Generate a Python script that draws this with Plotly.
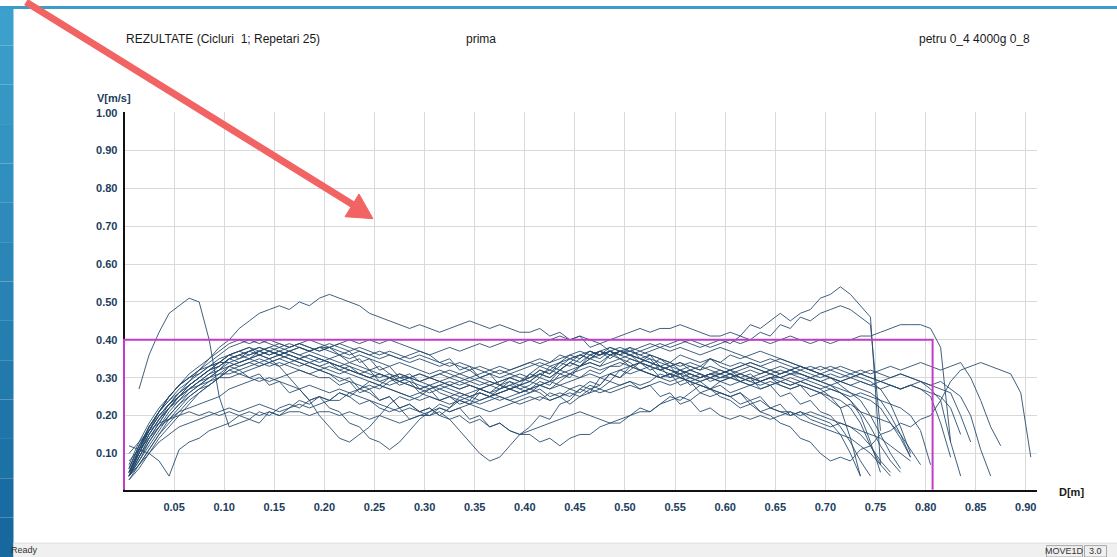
import plotly.graph_objects as go

W, H = 1117, 557


def px(x):
    return x / W


def py(y):
    return 1 - y / H


# ---------------- data ----------------
# sample positions along D [m]
D_GRID = [0.005, 0.015, 0.025, 0.035, 0.045, 0.055, 0.065, 0.075, 0.085, 0.095,
          0.105, 0.115, 0.125, 0.135, 0.145, 0.155, 0.165, 0.175, 0.185, 0.195,
          0.205, 0.215, 0.225, 0.235, 0.245, 0.255, 0.265, 0.275, 0.285, 0.295,
          0.305, 0.315, 0.325, 0.335, 0.345, 0.355, 0.365, 0.375, 0.385, 0.395,
          0.405, 0.415, 0.425, 0.435, 0.445, 0.455, 0.465, 0.475, 0.485, 0.495,
          0.505, 0.515, 0.525, 0.535, 0.545, 0.555, 0.565, 0.575, 0.585, 0.595,
          0.605, 0.615, 0.625, 0.635, 0.645, 0.655, 0.665, 0.675, 0.685, 0.695,
          0.705, 0.715, 0.725, 0.735, 0.745, 0.755, 0.765, 0.775, 0.785, 0.795,
          0.805, 0.815, 0.825, 0.835, 0.845, 0.855, 0.865, 0.875, 0.885, 0.895,
          0.905]

# velocity of each repetition, in cm/s (0.01 m/s), starting at D_GRID[REP_START[i]]
REP01 = [27, 36, 42, 47, 49, 51, 50, 40, 25, 17, 18, 19, 18, 21, 20, 22, 24, 23, 25, 24,
         24, 26, 27, 28, 27, 29, 30, 30, 31, 30, 31, 32, 31, 32, 30, 29, 28, 27, 26, 27,
         26, 24, 25, 23, 25, 27, 28, 31, 30, 33, 34, 32, 33, 30, 31, 28, 29, 27, 28, 26,
         27, 28, 29, 30, 30, 31, 31, 30, 29, 28, 26, 24, 20, 13, 5]
REP02 = [5, 10, 15, 19, 23, 26, 29, 32, 35, 38, 40, 43, 45, 47, 48, 49, 48, 50, 49, 51,
         52, 51, 50, 49, 47, 46, 45, 44, 43, 44, 43, 42, 43, 44, 45, 44, 43, 44, 43, 42,
         42, 43, 41, 42, 40, 41, 38, 39, 37, 36, 38, 35, 36, 33, 34, 32, 30, 31, 29, 30,
         30, 29, 28, 29, 28, 29, 30, 29, 28, 27, 25, 22, 14, 4]
REP03 = [4, 11, 17, 21, 25, 28, 30, 32, 34, 36, 38, 39, 40, 39, 40, 39, 38, 39, 38, 37,
         38, 37, 36, 37, 36, 35, 36, 35, 36, 37, 36, 37, 38, 37, 38, 39, 38, 39, 40, 39,
         40, 39, 40, 41, 40, 41, 40, 39, 40, 41, 42, 43, 42, 43, 43, 44, 43, 42, 41, 41,
         42, 41, 44, 43, 45, 47, 45, 47, 48, 51, 52, 54, 52, 49, 46, 7]
REP04 = [6, 12, 17, 21, 24, 27, 29, 31, 33, 34, 36, 37, 38, 37, 36, 37, 36, 35, 36, 35,
         34, 33, 34, 33, 32, 31, 30, 31, 30, 29, 30, 29, 30, 31, 30, 31, 32, 33, 32, 33,
         34, 35, 34, 36, 35, 36, 37, 36, 37, 38, 37, 38, 39, 38, 39, 40, 39, 38, 39, 40,
         39, 41, 40, 42, 41, 44, 43, 46, 45, 47, 48, 49, 48, 46, 44, 16]
REP05 = [4, 8, 12, 16, 20, 23, 26, 28, 30, 32, 35, 36, 35, 37, 38, 37, 38, 39, 38, 37,
         38, 39, 38, 37, 36, 37, 36, 35, 34, 35, 34, 33, 34, 33, 32, 33, 32, 31, 32, 33,
         34, 33, 34, 35, 36, 37, 36, 37, 38, 37, 38, 37, 38, 39, 38, 39, 40, 39, 38, 39,
         40, 39, 40, 40, 39, 40, 41, 40, 39, 40, 39, 40, 40, 41, 41, 42, 43, 44, 44, 44,
         43, 38, 13]
REP06 = [8, 11, 14, 17, 19, 21, 22, 23, 24, 25, 27, 28, 29, 30, 29, 30, 31, 32, 31, 32,
         33, 32, 31, 30, 29, 28, 27, 26, 25, 26, 25, 24, 25, 24, 23, 24, 25, 26, 27, 28,
         27, 28, 29, 30, 31, 32, 33, 32, 33, 34, 33, 32, 31, 30, 29, 30, 29, 28, 27, 26,
         25, 23, 24, 21, 20, 18, 17, 14, 13, 10, 8, 9, 8, 11, 12, 15, 16, 18, 17, 19,
         20, 24, 29, 32, 33, 34, 33, 32, 31, 26, 9]
REP07 = [5, 10, 15, 19, 22, 25, 27, 29, 30, 32, 33, 34, 35, 34, 35, 36, 35, 34, 33, 32,
         31, 30, 29, 28, 27, 28, 27, 26, 25, 24, 25, 24, 23, 24, 25, 26, 25, 26, 27, 26,
         27, 28, 27, 28, 29, 30, 31, 30, 31, 32, 31, 32, 31, 30, 31, 30, 29, 30, 31, 30,
         31, 30, 29, 30, 31, 30, 31, 32, 31, 30, 31, 30, 31, 32, 31, 32, 33, 32, 33, 34,
         33, 32, 33, 34, 30, 24, 17, 12]
REP08 = [3, 7, 11, 15, 19, 22, 25, 27, 29, 31, 33, 32, 33, 34, 33, 34, 33, 32, 31, 30,
         30, 28, 29, 26, 27, 24, 25, 22, 23, 21, 22, 20, 22, 24, 23, 26, 25, 27, 29, 28,
         31, 30, 33, 32, 34, 36, 35, 37, 36, 37, 36, 35, 34, 33, 32, 31, 30, 29, 30, 29,
         28, 29, 28, 27, 28, 29, 28, 29, 30, 29, 30, 29, 30, 31, 30, 29, 30, 31, 30, 29,
         28, 29, 27, 25, 20, 11, 4]
REP09 = [4, 9, 14, 18, 22, 25, 28, 30, 32, 34, 36, 35, 37, 38, 37, 36, 37, 36, 35, 34,
         35, 34, 33, 32, 31, 30, 31, 30, 29, 28, 27, 28, 27, 26, 25, 26, 25, 24, 25, 26,
         27, 29, 28, 31, 30, 33, 34, 33, 36, 37, 36, 35, 34, 33, 32, 31, 32, 31, 30, 31,
         30, 29, 30, 31, 32, 31, 32, 33, 32, 33, 32, 33, 32, 31, 32, 31, 30, 31, 30, 29,
         27, 24, 13, 4]
REP10 = [6, 12, 17, 21, 24, 26, 28, 30, 32, 34, 36, 37, 36, 37, 38, 39, 38, 39, 40, 39,
         38, 36, 37, 34, 35, 32, 33, 30, 31, 29, 30, 29, 28, 27, 28, 27, 26, 27, 28, 29,
         30, 32, 31, 33, 35, 34, 36, 37, 35, 37, 36, 37, 36, 35, 34, 33, 34, 33, 32, 31,
         32, 31, 30, 29, 30, 29, 28, 29, 28, 27, 28, 29, 28, 29, 28, 27, 28, 27, 28, 27,
         26, 25, 22, 15]
REP11 = [5, 11, 16, 20, 23, 25, 27, 29, 31, 32, 34, 33, 34, 35, 34, 35, 36, 35, 34, 35,
         34, 32, 33, 31, 32, 29, 30, 28, 29, 26, 27, 24, 25, 23, 24, 23, 24, 25, 24, 23,
         24, 25, 24, 25, 26, 25, 26, 27, 26, 27, 28, 27, 28, 29, 28, 29, 30, 29, 30, 31,
         32, 33, 34, 33, 32, 31, 32, 31, 30, 31, 30, 29, 30, 29, 28, 29, 28, 27, 28, 29,
         28, 27, 26, 20, 13]
REP12 = [4, 7, 10, 14, 17, 20, 23, 26, 28, 30, 33, 34, 35, 36, 35, 36, 37, 38, 37, 38,
         38, 39, 40, 39, 40, 39, 40, 39, 38, 37, 36, 34, 35, 32, 33, 30, 31, 28, 29, 27,
         28, 30, 29, 32, 31, 33, 35, 34, 36, 35, 33, 34, 33, 32, 33, 32, 31, 30, 31, 30,
         31, 30, 29, 28, 29, 28, 27, 28, 27, 26, 27, 26, 25, 26, 25, 24, 23, 22, 20, 16,
         7]
REP13 = [4, 9, 13, 17, 20, 23, 25, 27, 28, 30, 32, 31, 32, 33, 34, 33, 34, 35, 34, 33,
         34, 33, 32, 31, 30, 31, 30, 29, 30, 29, 28, 29, 28, 27, 28, 27, 28, 29, 30, 29,
         30, 32, 31, 34, 33, 35, 37, 36, 37, 35, 36, 35, 34, 33, 32, 31, 32, 31, 30, 29,
         30, 31, 32, 31, 32, 33, 32, 33, 32, 31, 30, 29, 28, 27, 26, 24, 20, 15, 9]
REP14 = [12, 11, 10, 8, 4, 11, 13, 14, 16, 17, 18, 20, 19, 21, 20, 22, 23, 22, 24, 25,
         24, 26, 25, 23, 24, 22, 21, 22, 19, 20, 20, 22, 21, 22, 19, 20, 17, 18, 16, 15,
         16, 17, 18, 19, 20, 21, 20, 19, 18, 19, 20, 22, 21, 23, 25, 24, 26, 28, 27, 29,
         30, 31, 30, 29, 30, 31, 32, 31, 30, 29, 28, 27, 26, 25, 24, 22, 18, 14, 9]
REP15 = [5, 11, 17, 21, 25, 28, 30, 32, 33, 35, 36, 37, 38, 36, 35, 33, 30, 27, 24, 20,
         17, 14, 13, 15, 17, 20, 23, 25, 24, 25, 27, 28, 29, 28, 29, 30, 31, 30, 31, 32,
         33, 34, 33, 34, 35, 36, 35, 36, 37, 36, 35, 34, 33, 32, 31, 32, 31, 30, 31, 32,
         31, 32, 33, 32, 31, 30, 29, 28, 27, 26, 25, 24, 22, 18, 12, 7]
REP16 = [6, 12, 16, 20, 23, 25, 27, 28, 30, 31, 31, 32, 30, 31, 28, 29, 26, 27, 24, 25,
         22, 21, 18, 17, 14, 13, 11, 13, 16, 19, 21, 23, 22, 25, 24, 27, 26, 28, 30, 29,
         31, 33, 32, 34, 36, 35, 37, 36, 38, 37, 37, 36, 35, 34, 33, 34, 33, 32, 33, 32,
         31, 29, 30, 27, 28, 25, 26, 23, 24, 21, 20, 17, 13, 8, 4]
REP17 = [4, 8, 13, 17, 21, 24, 27, 29, 31, 33, 35, 36, 37, 38, 37, 36, 35, 34, 33, 32,
         31, 29, 30, 27, 26, 24, 25, 22, 23, 21, 22, 20, 19, 16, 13, 10, 8, 9, 12, 15,
         17, 20, 19, 23, 24, 27, 26, 30, 29, 32, 33, 32, 31, 30, 31, 30, 29, 28, 27, 26,
         25, 26, 24, 25, 22, 23, 20, 21, 19, 18, 17, 18, 17, 15, 12, 8, 5]
REP18 = [10, 13, 16, 18, 19, 20, 21, 20, 21, 20, 21, 20, 21, 20, 21, 20, 21, 21, 20, 21,
         21, 20, 21, 20, 19, 20, 19, 18, 19, 20, 21, 22, 21, 22, 23, 22, 21, 22, 23, 24,
         25, 24, 26, 25, 27, 26, 28, 27, 29, 28, 29, 27, 28, 25, 26, 23, 24, 21, 22, 20,
         19, 20, 19, 20, 19, 20, 21, 20, 21, 20, 19, 18, 17, 16, 15, 14, 12, 10, 8]
REP19 = [5, 10, 15, 19, 22, 24, 26, 28, 29, 30, 30, 31, 30, 29, 30, 29, 28, 27, 28, 27,
         26, 27, 26, 25, 24, 23, 22, 21, 22, 21, 20, 21, 19, 20, 18, 19, 17, 18, 16, 15,
         15, 13, 14, 12, 14, 15, 15, 17, 18, 18, 20, 21, 21, 23, 24, 25, 24, 26, 25, 26,
         25, 26, 23, 24, 22, 21, 21, 19, 18, 17, 16, 15, 14, 12, 10, 7, 4]
REP20 = [3, 6, 10, 13, 15, 17, 18, 19, 20, 21, 22, 21, 22, 23, 22, 21, 22, 23, 22, 23,
         24, 26, 25, 27, 29, 28, 30, 31, 30, 31, 30, 31, 30, 29, 30, 29, 28, 27, 28, 27,
         26, 27, 25, 26, 25, 27, 29, 28, 31, 30, 32, 34, 33, 35, 34, 36, 35, 34, 35, 33,
         32, 30, 31, 29, 30, 28, 27, 28, 25, 26, 24, 22, 23, 21, 20, 19, 18, 15, 11, 7]
REP21 = [4, 9, 14, 18, 22, 25, 28, 30, 32, 33, 35, 36, 37, 36, 37, 36, 37, 38, 37, 36,
         35, 36, 34, 35, 32, 33, 31, 29, 30, 27, 28, 26, 25, 26, 25, 24, 25, 26, 27, 28,
         29, 31, 30, 32, 34, 33, 35, 37, 36, 37, 36, 34, 35, 32, 33, 30, 31, 30, 31, 31,
         32, 33, 34, 33, 34, 35, 34, 33, 32, 31, 30, 28, 26, 24, 20, 15, 10, 6]
REP22 = [5, 11, 16, 21, 25, 28, 31, 33, 35, 37, 39, 40, 39, 40, 39, 38, 39, 38, 37, 38,
         37, 36, 35, 36, 35, 34, 33, 34, 33, 32, 31, 32, 31, 30, 29, 28, 29, 28, 27, 28,
         29, 31, 30, 32, 34, 33, 36, 35, 37, 36, 37, 36, 37, 38, 37, 38, 37, 36, 37, 38,
         37, 36, 35, 34, 35, 34, 33, 32, 33, 32, 33, 32, 31, 30, 29, 27, 23, 17, 10]
REP23 = [4, 7, 11, 15, 18, 21, 24, 26, 28, 30, 32, 33, 34, 33, 34, 35, 34, 33, 34, 33,
         32, 31, 32, 31, 30, 29, 28, 29, 28, 27, 28, 27, 28, 29, 28, 27, 28, 29, 30, 31,
         30, 31, 32, 31, 32, 33, 34, 33, 34, 35, 34, 32, 33, 30, 31, 28, 29, 26, 27, 25,
         24, 22, 23, 21, 22, 21, 20, 21, 20, 19, 18, 15, 10, 4]
REP24 = [7, 13, 18, 22, 25, 28, 30, 31, 33, 34, 34, 35, 36, 37, 36, 37, 36, 35, 36, 35,
         34, 33, 32, 31, 30, 31, 30, 29, 28, 27, 26, 27, 26, 25, 26, 27, 26, 25, 24, 25,
         26, 28, 27, 29, 31, 30, 32, 31, 33, 33, 35, 34, 36, 35, 33, 34, 32, 33, 35, 34,
         36, 35, 36, 37, 36, 35, 34, 33, 32, 31, 32, 31, 30, 31, 30, 29, 28, 27, 28, 27,
         25, 18, 9]
REP25 = [4, 10, 16, 20, 23, 26, 28, 30, 32, 33, 35, 34, 35, 36, 37, 38, 37, 36, 37, 38,
         39, 38, 37, 38, 37, 36, 37, 36, 35, 36, 35, 34, 33, 34, 33, 32, 31, 32, 31, 30,
         29, 28, 29, 28, 27, 28, 27, 26, 27, 28, 29, 28, 29, 31, 30, 32, 33, 32, 35, 34,
         33, 34, 33, 32, 31, 32, 31, 30, 29, 28, 27, 26, 24, 21, 17, 12, 8, 5]

REPS = [REP01, REP02, REP03, REP04, REP05, REP06, REP07, REP08, REP09, REP10,
        REP11, REP12, REP13, REP14, REP15, REP16, REP17, REP18, REP19, REP20,
        REP21, REP22, REP23, REP24, REP25]
REP_START = [1, 0, 0, 0, 0, 0, 0, 0, 0, 0, 0, 0, 0, 0, 0, 0, 0, 0, 0, 0, 0, 0, 0, 0, 0]

# target window (magenta)
TARGET_D = [0.0, 0.0, 0.807, 0.807]
TARGET_V = [0.0, 0.40, 0.40, 0.0]

X_TICKS = [0.05, 0.10, 0.15, 0.20, 0.25, 0.30, 0.35, 0.40, 0.45, 0.50,
           0.55, 0.60, 0.65, 0.70, 0.75, 0.80, 0.85, 0.90]
X_LABELS = ["0.05", "0.10", "0.15", "0.20", "0.25", "0.30", "0.35", "0.40", "0.45", "0.50",
            "0.55", "0.60", "0.65", "0.70", "0.75", "0.80", "0.85", "0.90"]
Y_TICKS = [0.10, 0.20, 0.30, 0.40, 0.50, 0.60, 0.70, 0.80, 0.90, 1.00]
Y_LABELS = ["0.10", "0.20", "0.30", "0.40", "0.50", "0.60", "0.70", "0.80", "0.90", "1.00"]

TITLE_LEFT = "REZULTATE (Cicluri\u00a0 1; Repetari 25)"
TITLE_MID = "prima"
TITLE_RIGHT = "petru 0_4 4000g 0_8"

# ---------------- figure ----------------
fig = go.Figure()

for rep, s in zip(REPS, REP_START):
    xs = D_GRID[s:s + len(rep)]
    ys = [v / 100 for v in rep]
    fig.add_trace(go.Scatter(x=xs, y=ys, mode="lines",
                             line=dict(color="rgba(38,74,108,0.88)", width=1),
                             hoverinfo="skip", showlegend=False))

fig.add_trace(go.Scatter(x=TARGET_D, y=TARGET_V, mode="lines",
                         line=dict(color="#C23CC6", width=2),
                         hoverinfo="skip", showlegend=False))

tick_font = dict(family="Liberation Sans, Arial, sans-serif", size=11, color="#203d5e")

fig.update_layout(
    width=W, height=H,
    margin=dict(l=0, r=0, t=0, b=0),
    paper_bgcolor="white", plot_bgcolor="white",
    showlegend=False,
    font=dict(family="Liberation Sans, Arial, sans-serif"),
    xaxis=dict(
        range=[-0.0015, 0.911],
        domain=[px(122.5), px(1036.8)],
        tickmode="array", tickvals=X_TICKS, ticktext=X_LABELS,
        tickfont=dict(tick_font, weight="bold"),
        ticks="", ticklabelstandoff=6,
        showgrid=True, gridcolor="#d9d9d9", gridwidth=1,
        zeroline=True, zerolinecolor="#111111", zerolinewidth=2,
        showline=True, linecolor="#111111", linewidth=2,
        fixedrange=True,
    ),
    yaxis=dict(
        range=[0.004, 1.001],
        domain=[py(489), py(107.45)],
        tickmode="array", tickvals=Y_TICKS, ticktext=Y_LABELS,
        tickfont=dict(tick_font, weight="bold"),
        ticks="", ticklabelstandoff=4,
        showgrid=True, gridcolor="#d9d9d9", gridwidth=1,
        zeroline=False, showline=False,
        fixedrange=True,
    ),
)

shapes = []
# blue window frame on the left (vertical gradient) and top strip
top_c = (60, 160, 204)
bot_c = (22, 104, 158)
n = 14
for i in range(n):
    t = i / (n - 1)
    c = tuple(int(round(top_c[j] + (bot_c[j] - top_c[j]) * t)) for j in range(3))
    shapes.append(dict(type="rect", xref="paper", yref="paper",
                       x0=px(0), x1=px(13.5), y0=py(H * (i + 1) / n), y1=py(H * i / n),
                       fillcolor="rgb(%d,%d,%d)" % c, line=dict(width=0), layer="above"))
shapes.append(dict(type="rect", xref="paper", yref="paper",
                   x0=0, x1=1, y0=py(3), y1=1,
                   fillcolor="rgb(58,158,200)", line=dict(width=0), layer="above"))
# status bar
shapes.append(dict(type="rect", xref="paper", yref="paper",
                   x0=px(13.5), x1=1, y0=0, y1=py(543),
                   fillcolor="#f0f0f0", line=dict(width=0), layer="above"))
shapes.append(dict(type="line", xref="paper", yref="paper",
                   x0=px(13.5), x1=1, y0=py(543), y1=py(543),
                   line=dict(color="#dcdcdc", width=1), layer="above"))
shapes.append(dict(type="rect", xref="paper", yref="paper",
                   x0=px(1046.5), x1=px(1082.5), y0=0, y1=py(545.5),
                   fillcolor="rgba(0,0,0,0)", line=dict(color="#a8a8a8", width=1), layer="above"))
shapes.append(dict(type="rect", xref="paper", yref="paper",
                   x0=px(1084.5), x1=px(1106.5), y0=0, y1=py(545.5),
                   fillcolor="rgba(0,0,0,0)", line=dict(color="#a8a8a8", width=1), layer="above"))
# red pointer arrow
arrow_c = "#F26464"
shapes.append(dict(type="line", xref="paper", yref="paper",
                   x0=px(26), y0=py(-4), x1=px(353), y1=py(201),
                   line=dict(color=arrow_c, width=7), layer="above"))
shapes.append(dict(type="path", xref="paper", yref="paper",
                   path="M %f %f L %f %f L %f %f Z" % (px(373), py(215), px(359), py(190), px(345), py(213)),
                   fillcolor=arrow_c, line=dict(color=arrow_c, width=1), layer="above"))
fig.update_layout(shapes=shapes)

ann = []
hdr_font = dict(family="Liberation Sans, Arial, sans-serif", size=12, color="#1a1a1a")
ann.append(dict(text=TITLE_LEFT, x=px(124), y=py(33), xref="paper", yref="paper",
                xanchor="left", yanchor="middle", showarrow=False, font=hdr_font))
ann.append(dict(text=TITLE_MID, x=px(481), y=py(33), xref="paper", yref="paper",
                xanchor="center", yanchor="middle", showarrow=False, font=hdr_font))
ann.append(dict(text=TITLE_RIGHT, x=px(1032), y=py(33), xref="paper", yref="paper",
                xanchor="right", yanchor="middle", showarrow=False, font=hdr_font))
ann.append(dict(text="V[m/s]", x=px(95), y=py(93), xref="paper", yref="paper",
                xanchor="left", yanchor="middle", showarrow=False,
                font=dict(tick_font, weight="bold")))
ann.append(dict(text="D[m]", x=px(1057), y=py(491), xref="paper", yref="paper",
                xanchor="left", yanchor="middle", showarrow=False,
                font=dict(family="Liberation Sans, Arial, sans-serif", size=11,
                          color="#1a1a1a", weight="bold")))
status_font = dict(family="Liberation Sans, Arial, sans-serif", size=9, color="#333333")
ann.append(dict(text="Ready", x=px(9), y=py(550), xref="paper", yref="paper",
                xanchor="left", yanchor="middle", showarrow=False, font=status_font))
ann.append(dict(text="MOVE1D", x=px(1064.5), y=py(550.5), xref="paper", yref="paper",
                xanchor="center", yanchor="middle", showarrow=False, font=status_font))
ann.append(dict(text="3.0", x=px(1095.5), y=py(550.5), xref="paper", yref="paper",
                xanchor="center", yanchor="middle", showarrow=False, font=status_font))
fig.update_layout(annotations=ann)

fig.write_html("out.html",
               config={"displayModeBar": False},
               post_script="document.body.style.margin='0';document.body.style.overflow='hidden';")
